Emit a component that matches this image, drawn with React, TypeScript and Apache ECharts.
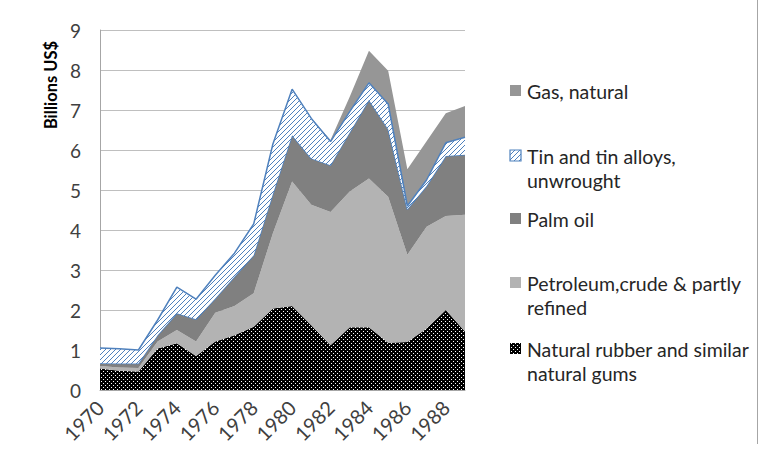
import React, { useEffect, useRef } from "react";
import * as echarts from "echarts";

const years = ["1970","1971","1972","1973","1974","1975","1976","1977","1978","1979","1980","1981","1982","1983","1984","1985","1986","1987","1988","1989"];
const rubber = [0.54,0.48,0.46,1.04,1.17,0.85,1.21,1.37,1.58,2.04,2.10,1.62,1.12,1.57,1.57,1.18,1.20,1.54,2.00,1.46];
const petroleum = [0.06,0.08,0.09,0.17,0.33,0.36,0.72,0.73,0.84,1.88,3.11,3.01,3.33,3.39,3.72,3.65,2.18,2.54,2.35,2.92];
const palmOil = [0.07,0.10,0.11,0.16,0.42,0.56,0.36,0.73,0.95,0.98,1.16,1.16,1.17,1.48,1.96,1.69,1.14,1.02,1.50,1.50];
const tin = [0.38,0.37,0.34,0.38,0.65,0.50,0.58,0.59,0.78,1.25,1.15,1.00,0.59,0.52,0.43,0.63,0.08,0.15,0.33,0.44];
const gas = [0,0,0,0,0,0,0,0,0,0,0,0,0.04,0.37,0.80,0.83,0.92,0.97,0.74,0.78];

const names = {
  rubber: "Natural rubber and similar\nnatural gums",
  petroleum: "Petroleum,crude & partly\nrefined",
  palm: "Palm oil",
  tin: "Tin and tin alloys,\nunwrought",
  gas: "Gas, natural",
};

const FONT = "Lato, 'Liberation Sans', sans-serif";
const BLUE = "#4f81bd";

function makeDots() {
  const c = document.createElement("canvas");
  c.width = 4; c.height = 4;
  const ctx = c.getContext("2d")!;
  ctx.fillStyle = "#000";
  ctx.fillRect(0, 0, 4, 4);
  ctx.fillStyle = "#fff";
  ctx.fillRect(1, 1, 1, 1);
  ctx.fillRect(3, 3, 1, 1);
  return { image: c.toDataURL(), repeat: "repeat", imageWidth: 4, imageHeight: 4 } as any;
}

function makeHatch() {
  const s = 5;
  const c = document.createElement("canvas");
  c.width = s; c.height = s;
  const ctx = c.getContext("2d")!;
  ctx.fillStyle = "#fff";
  ctx.fillRect(0, 0, s, s);
  ctx.strokeStyle = BLUE;
  ctx.lineWidth = 1;
  ctx.beginPath();
  ctx.moveTo(-1, s + 1); ctx.lineTo(s + 1, -1);
  ctx.moveTo(-1, 1); ctx.lineTo(1, -1);
  ctx.moveTo(s - 1, s + 1); ctx.lineTo(s + 1, s - 1);
  ctx.stroke();
  return { image: c.toDataURL(), repeat: "repeat", imageWidth: s, imageHeight: s } as any;
}

export default function App() {
  const ref = useRef<HTMLDivElement>(null);
  useEffect(() => {
    if (!ref.current) return;
    const chart = echarts.init(ref.current, undefined, { renderer: "svg" });
    const dots = makeDots();
    const hatch = makeHatch();

    const legendItems = [
      { name: names.gas, y: 91, fill: "#969696", stroke: null as any },
      { name: names.tin, y: 156, fill: hatch, stroke: BLUE },
      { name: names.palm, y: 219, fill: "#808080", stroke: null },
      { name: names.petroleum, y: 283, fill: "#b3b3b3", stroke: null },
      { name: names.rubber, y: 349, fill: dots, stroke: null },
    ];
    const legendGraphics: any[] = [];
    legendItems.forEach((it) => {
      legendGraphics.push({
        type: "rect",
        shape: { x: 510, y: it.y - 6, width: 11, height: 11 },
        style: { fill: it.fill, stroke: it.stroke || undefined, lineWidth: it.stroke ? 1.2 : 0 },
      });
      legendGraphics.push({
        type: "text",
        x: 527,
        y: it.y - 12,
        style: { text: it.name, font: `19.5px ${FONT}`, fill: "#262626", lineHeight: 24, textVerticalAlign: "top" },
      });
    });

    const mk = (name: string, data: number[], color: any, extra: any = {}) => ({
      name,
      type: "line",
      stack: "total",
      data,
      symbol: "none",
      lineStyle: { width: 0 },
      areaStyle: { color, opacity: 1 },
      itemStyle: { color: typeof color === "string" ? color : "#000" },
      ...extra,
    });

    chart.setOption({
      animation: false,
      grid: { left: 100, right: 298, top: 30, bottom: 71 },
      xAxis: {
        type: "category",
        data: years,
        boundaryGap: false,
        axisLine: { lineStyle: { color: "#a6a6a6", width: 1 } },
        axisTick: { show: false },
        axisLabel: { interval: 1, rotate: 45, fontSize: 20, fontFamily: FONT, color: "#404040", margin: 14 },
        splitLine: { show: false },
      },
      yAxis: {
        type: "value",
        min: 0,
        max: 9,
        interval: 1,
        axisLine: { show: true, lineStyle: { color: "#a6a6a6", width: 1 } },
        axisTick: { show: false },
        axisLabel: { fontSize: 19, fontFamily: FONT, color: "#404040", margin: 19 },
        splitLine: { lineStyle: { color: "#bfbfbf", width: 1 } },
      },
      series: [
        mk(names.rubber, rubber, dots),
        mk(names.petroleum, petroleum, "#b3b3b3"),
        mk(names.palm, palmOil, "#808080", { lineStyle: { width: 1.5, color: BLUE }, z: 4 }),
        mk(names.tin, tin, hatch, { lineStyle: { width: 1.5, color: BLUE }, z: 5, itemStyle: { color: BLUE } }),
        mk(names.gas, gas, "#969696", { z: 1 }),
      ],
      graphic: [
        {
          type: "text",
          x: 51,
          y: 85,
          rotation: Math.PI / 2,
          style: { text: "Billions US$", font: `bold 16.5px ${FONT}`, fill: "#000", align: "center", verticalAlign: "middle" },
        },
        { type: "line", shape: { x1: 757.5, y1: 0, x2: 757.5, y2: 444 }, style: { stroke: "#a6a6a6", lineWidth: 1 } },
        ...legendGraphics,
      ],
    });
    return () => chart.dispose();
  }, []);
  return <div ref={ref} style={{ width: 763, height: 461, position: "absolute", left: 0, top: 0 }} />;
}
